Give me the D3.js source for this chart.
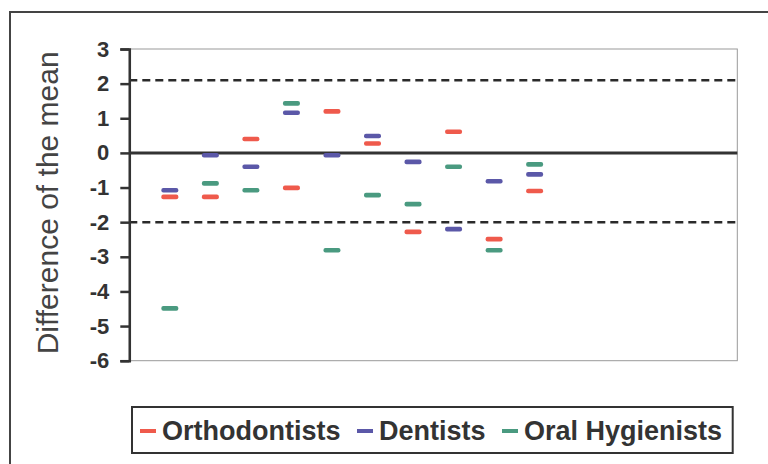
<!DOCTYPE html>
<html>
<head>
<meta charset="utf-8">
<script src="https://cdn.jsdelivr.net/npm/d3@7/dist/d3.min.js"></script>
<style>
  html, body { margin: 0; padding: 0; background: #fff; }
  svg { display: block; font-family: "Liberation Sans", Arial, sans-serif; }
</style>
</head>
<body>
<svg id="chart" width="768" height="464"></svg>
<script>
// ---- data ----
const positions = [1, 2, 3, 4, 5, 6, 7, 8, 9, 10];
const orthodontists = [-1.27, -1.27, 0.40, -1.01, 1.20, 0.27, -2.28, 0.61, -2.49, -1.10];
const dentists      = [-1.08, -0.07, -0.40, 1.16, -0.07, 0.49, -0.26, -2.20, -0.82, -0.62];
const hygienists    = [-4.49, -0.88, -1.08, 1.43, -2.81, -1.22, -1.48, -0.40, -2.81, -0.33];
const seriesNames = ["Orthodontists", "Dentists", "Oral Hygienists"];
const seriesColors = ["#ef5a4c", "#5b58a8", "#4a9a80"];
const yTicks = [3, 2, 1, 0, -1, -2, -3, -4, -5, -6];
const limits = [2.1, -2.0];
const yTitle = "Difference of the mean";

// ---- layout ----
const svg = d3.select("#chart");
const L = 129.3, R = 737.3, T = 49, B = 360.7;
const x = d3.scaleLinear().domain([0, 15]).range([L, R]);
const y = d3.scaleLinear().domain([-6, 3]).range([B, T]);

// outer frame (cropped at right/bottom)
svg.append("rect").attr("x", 10).attr("y", 12).attr("width", 800).attr("height", 500)
  .attr("fill", "none").attr("stroke", "#444").attr("stroke-width", 2);

// plot area border
svg.append("rect").attr("x", L).attr("y", T).attr("width", R - L).attr("height", B - T)
  .attr("fill", "none").attr("stroke", "#999").attr("stroke-width", 1);

// dashed limits
svg.selectAll("line.limit").data(limits).enter().append("line")
  .attr("class", "limit")
  .attr("x1", L).attr("x2", R)
  .attr("y1", d => y(d)).attr("y2", d => y(d))
  .attr("stroke", "#2a2a2a").attr("stroke-width", 2.5).attr("stroke-dasharray", "8,5");

// zero line
svg.append("line").attr("x1", L).attr("x2", R).attr("y1", y(0)).attr("y2", y(0))
  .attr("stroke", "#333").attr("stroke-width", 3);

// y axis
const yAxis = d3.axisLeft(y).tickValues(yTicks).tickSize(9).tickPadding(11).tickFormat(d3.format("d"));
const gy = svg.append("g").attr("transform", `translate(${L},0)`).call(yAxis);
gy.select(".domain").attr("stroke", "#333").attr("stroke-width", 2.5);
gy.selectAll(".tick line").attr("stroke", "#333").attr("stroke-width", 2.5);
gy.selectAll(".tick text").attr("fill", "#333").attr("font-size", 22).attr("font-weight", "bold")
  .attr("font-family", '"Liberation Sans", Arial, sans-serif')
  .text(d => d < 0 ? "-" + Math.abs(d) : d);

// y title
svg.append("text")
  .attr("transform", `translate(58,${(T + B) / 2 - 2}) rotate(-90)`)
  .attr("text-anchor", "middle")
  .attr("fill", "#444").attr("font-size", 30)
  .text(yTitle);

// markers
const allSeries = [orthodontists, dentists, hygienists];
allSeries.forEach((vals, si) => {
  svg.append("g").selectAll("rect").data(vals).enter().append("rect")
    .attr("x", (d, i) => x(positions[i]) - 8.5)
    .attr("y", d => y(d) - 2.3)
    .attr("width", 17).attr("height", 4.6)
    .attr("rx", 2)
    .attr("fill", seriesColors[si]);
});

// legend
const lg = svg.append("g");
lg.append("rect").attr("x", 132).attr("y", 407).attr("width", 600.7).attr("height", 46)
  .attr("fill", "#fff").attr("stroke", "#333").attr("stroke-width", 2);
const legendX = [140, 357, 502];
seriesNames.forEach((name, i) => {
  lg.append("rect").attr("x", legendX[i]).attr("y", 429).attr("width", 16).attr("height", 4)
    .attr("fill", seriesColors[i]);
  lg.append("text").attr("x", legendX[i] + 22).attr("y", 440)
    .attr("fill", "#333").attr("font-size", 27).attr("font-weight", "bold")
    .text(name);
});
</script>
</body>
</html>
